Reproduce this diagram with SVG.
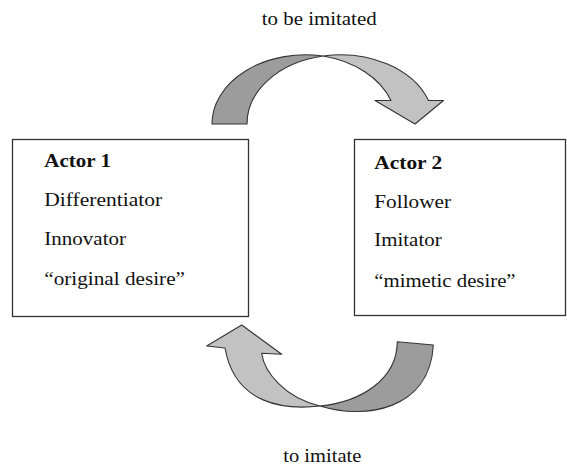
<svg xmlns="http://www.w3.org/2000/svg" width="567" height="468" viewBox="0 0 567 468">
<style>
.box{fill:#fff;stroke:#333;stroke-width:1.3}
.t{font-family:'Liberation Serif','DejaVu Serif','Times New Roman',serif;font-size:18px;fill:#111}
.b{font-weight:bold}
.dk{fill:#9c9c9c;stroke:#333;stroke-width:1.1;stroke-linejoin:round}
.lt{fill:#c2c2c2;stroke:#333;stroke-width:1.1;stroke-linejoin:round}
</style>
<rect width="567" height="468" fill="#fff"/>
<g id="connectors">
  <g id="arrow-top">
    <path class="dk" d="M212,124 A93.5 69.2 0 0 1 323,56 A93.5 69.2 0 0 0 247,124 Z"/>
    <path class="lt" d="M323,56 A93.5 69.2 0 0 1 428.5,100.5 L443.5,100.5 L415,124 L375,100.5 L391,100.5 A93.5 69.2 0 0 0 323,56 Z"/>
  </g>
  <g id="arrow-bottom">
    <path class="dk" d="M320,406 C365,420 430,410 433.3,345 L397.3,341.7 C397,380 360,402 320,406 Z"/>
    <path class="lt" d="M320,406 C285,410 235,405 225,348 L206.7,346 L241.7,325 L281.7,354.3 L261.7,353.3 C264,372 285,398 320,406 Z"/>
  </g>
  <text id="label-top" class="t" font-family="Liberation Serif, serif" x="261.7" y="25" textLength="115" lengthAdjust="spacingAndGlyphs">to be imitated</text>
  <text id="label-bottom" class="t" font-family="Liberation Serif, serif" x="283.3" y="462" textLength="78" lengthAdjust="spacingAndGlyphs">to imitate</text>
</g>
<g id="actor1" font-family="Liberation Serif, serif">
  <rect class="box" x="12.5" y="139.5" width="236" height="177"/>
  <text class="t b" x="44.3" y="166.5" textLength="66.7" lengthAdjust="spacingAndGlyphs">Actor 1</text>
  <text class="t" x="44.3" y="205.5" textLength="118" lengthAdjust="spacingAndGlyphs">Differentiator</text>
  <text class="t" x="44.3" y="244.5" textLength="81.7" lengthAdjust="spacingAndGlyphs">Innovator</text>
  <text class="t" x="44.3" y="285" textLength="140.7" lengthAdjust="spacingAndGlyphs">“original desire”</text>
</g>
<g id="actor2" font-family="Liberation Serif, serif">
  <rect class="box" x="354.5" y="139.5" width="211" height="176"/>
  <text class="t b" x="374.3" y="169" textLength="68" lengthAdjust="spacingAndGlyphs">Actor 2</text>
  <text class="t" x="374.3" y="208" textLength="76.7" lengthAdjust="spacingAndGlyphs">Follower</text>
  <text class="t" x="374.3" y="246" textLength="67.3" lengthAdjust="spacingAndGlyphs">Imitator</text>
  <text class="t" x="374.3" y="287" textLength="141.3" lengthAdjust="spacingAndGlyphs">“mimetic desire”</text>
</g>
</svg>
